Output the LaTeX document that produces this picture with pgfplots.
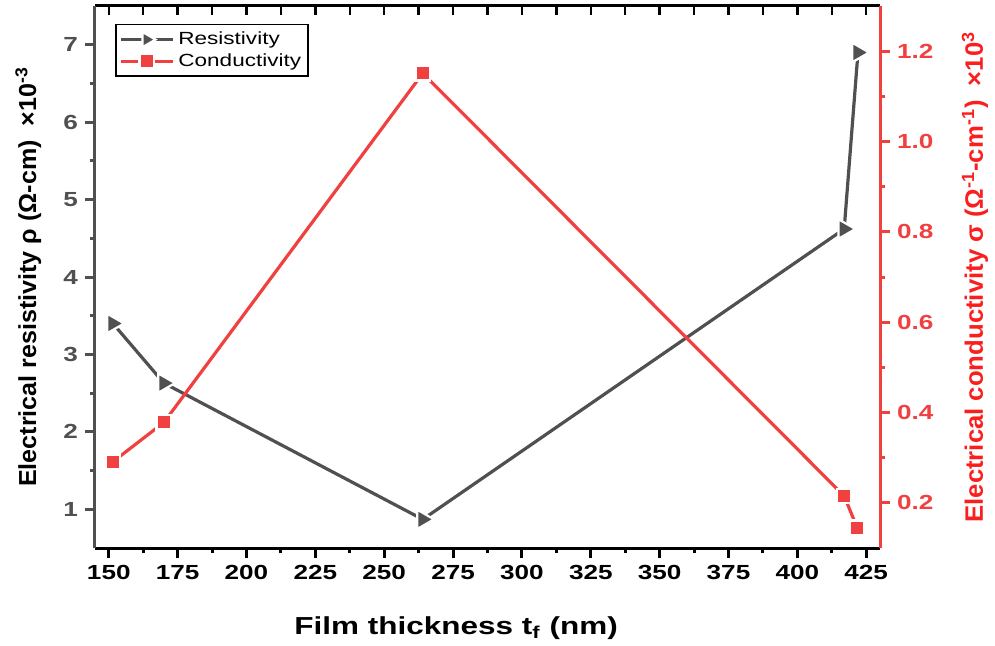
\documentclass[border=0pt]{standalone}
\usepackage{fontspec}
\setmainfont{Liberation Sans}[FakeStretch=1.28]
\newfontfamily\labfont{Liberation Sans Bold}[FakeStretch=1.02]
\usepackage{pgfplots}
\pgfplotsset{compat=1.18}
\definecolor{rgray}{RGB}{80,80,80}
\definecolor{cred}{RGB}{240,64,64}
\definecolor{lred}{RGB}{250,30,30}
\begin{document}
\begin{tikzpicture}
\useasboundingbox (-47.5pt,-48.5pt) rectangle (450pt,274pt);
\pgfplotsset{
  base/.style={width=392.5pt,height=271pt,scale only axis,xmin=145,xmax=430,
    /pgf/number format/assume math mode=true,
    major tick length=5pt, minor tick length=2.5pt},
  resstyle/.style={rgray, line width=1.6pt, mark=triangle*, mark size=5.6pt,
    mark options={rotate=-90, fill=rgray, draw=white, line width=1.1pt}},
  constyle/.style={cred, line width=1.6pt, mark=square*, mark size=3.6pt,
    mark options={fill=cred, draw=white, line width=1.2pt}},
}
% top axis line with inward ticks
\begin{axis}[base, ymin=0, ymax=1,
  axis x line*=top, axis y line=none, tick align=inside,
  xtick={150,175,...,425}, minor x tick num=1, xticklabels={},
  major tick length=4.5pt, minor tick length=4.5pt,
  x axis line style={black,line width=1.5pt},
  xtick style={black,line width=1.2pt}]
\end{axis}
% resistivity
\begin{axis}[base, ymin=0.5, ymax=7.5,
  axis x line*=bottom, axis y line*=left, tick align=outside,
  xtick={150,175,...,425}, minor x tick num=1,
  ytick={1,2,...,7}, minor y tick num=1,
  x axis line style={black,line width=1.5pt},
  y axis line style={rgray,line width=1.5pt},
  xtick style={black,line width=1.5pt},
  ytick style={rgray,line width=1.5pt},
  xticklabel style={font=\bfseries\fontsize{10.2}{12}\selectfont, text=black},
  yticklabel style={font=\bfseries\fontsize{10.2}{12}\selectfont, text=rgray},
  xlabel={Film thickness t\textsubscript{f} (nm)},
  xlabel style={at={(axis description cs:0.46,-0.148)}, anchor=center, font=\bfseries\fontsize{12.3}{14}\selectfont},
  ylabel={Electrical resistivity ρ (Ω-cm)\ \ ×10\textsuperscript{-3}},
  ylabel style={at={(axis description cs:-0.085,0.5)}, anchor=center, rotate=0, font=\labfont\fontsize{12.3}{13}\selectfont},
]
\addplot[resstyle] coordinates {(151.5,3.40) (170,2.63) (264,0.87) (417,4.62) (422,6.90)};
\end{axis}
% conductivity
\begin{axis}[base, ymin=0.1, ymax=1.3,
  axis x line=none, axis y line*=right, tick align=outside,
  ytick={0.2,0.4,0.6,0.8,1.0,1.2}, minor y tick num=1,
  y axis line style={cred,line width=1.5pt},
  ytick style={cred,line width=1.5pt},
  yticklabel style={font=\bfseries\fontsize{10.2}{12}\selectfont, text=cred,
    /pgf/number format/fixed, /pgf/number format/fixed zerofill, /pgf/number format/precision=1},
  ylabel={Electrical conductivity σ (Ω\textsuperscript{-1}-cm\textsuperscript{-1})\ \ ×10\textsuperscript{3}},
  ylabel style={at={(axis description cs:1.121,0.5)}, anchor=center, rotate=0, text=lred, font=\labfont\fontsize{12.6}{13}\selectfont},
  legend style={at={(0.026,0.967)}, anchor=north west, draw=black, line width=0.8pt,
    inner sep=1.5pt, row sep=-1pt, font=\fontsize{8.8}{10}\selectfont},
  legend cell align=left,
  legend image code/.code={\draw[mark repeat=2,mark phase=2] plot coordinates {(0pt,0pt) (13pt,0pt) (26pt,0pt)};},
]
\addlegendimage{resstyle, mark size=4.4pt}
\addlegendentry{Resistivity}
\addplot[constyle] coordinates {(151.5,0.291) (170,0.378) (264,1.151) (417,0.215) (421.7,0.145)};
\addlegendentry{Conductivity}
\end{axis}
\end{tikzpicture}
\end{document}
